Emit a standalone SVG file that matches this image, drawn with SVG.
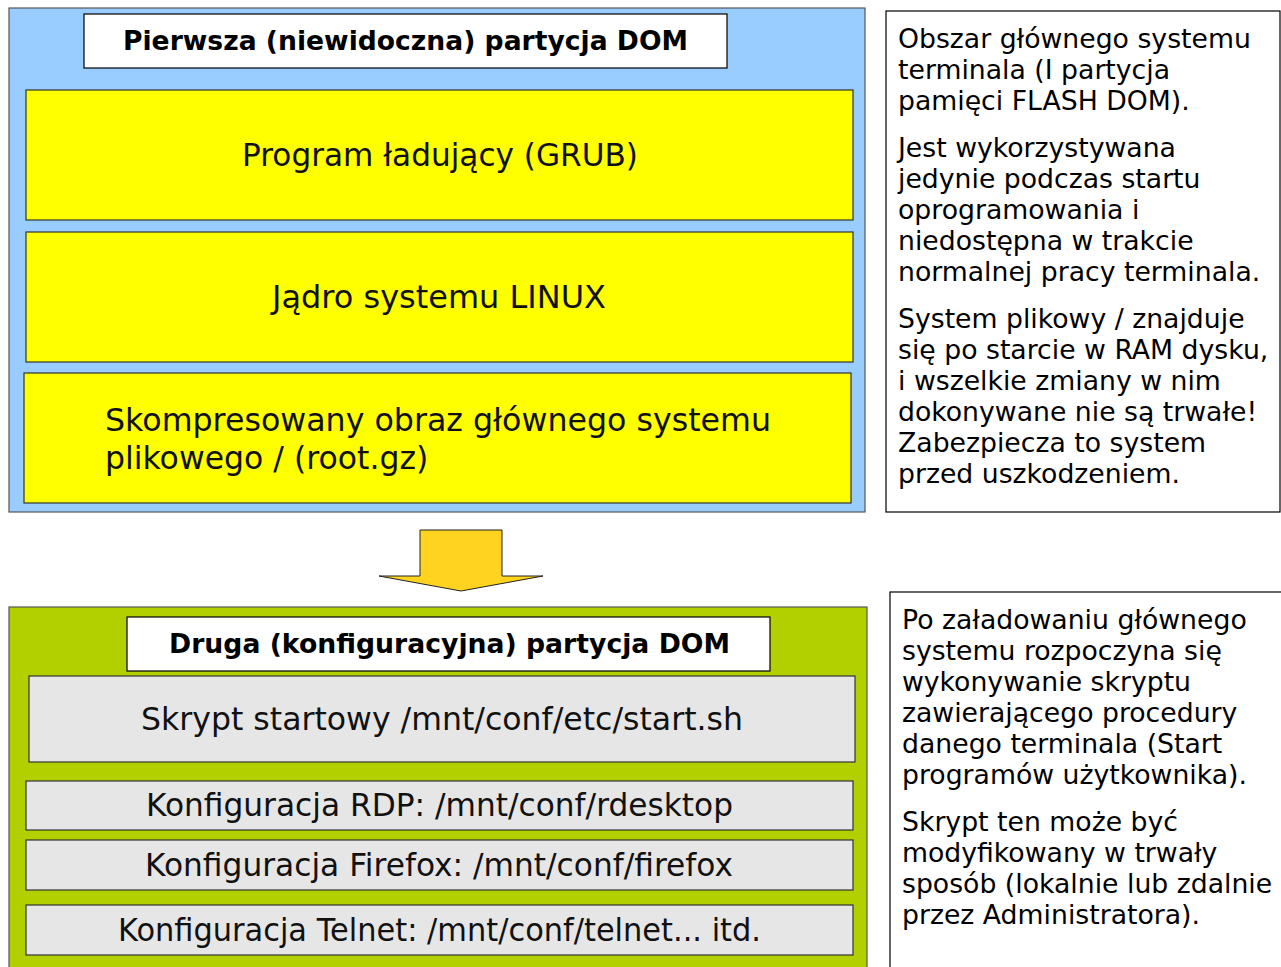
<svg xmlns="http://www.w3.org/2000/svg" width="1281" height="967" viewBox="0 0 1281 967">
<style>
.t{font-family:"DejaVu Sans","Liberation Sans",sans-serif;fill:#111}
.hd{font-size:26.7px;font-weight:bold;text-anchor:middle;fill:#000}
.big{font-size:31.5px;text-anchor:middle}
.side{font-size:26.7px;fill:#000}
.box{stroke:#333;stroke-width:1.2}
</style>
<rect width="1281" height="967" fill="#fff"/>
<g id="part1">
<rect x="9" y="8" width="856" height="504" fill="#99CCFF" stroke="#555" stroke-width="1.2"/>
<rect x="84" y="14" width="643" height="54" fill="#fff" stroke="#000" stroke-width="1.2"/>
<text class="t hd" x="405.5" y="50" textLength="565" lengthAdjust="spacingAndGlyphs">Pierwsza (niewidoczna) partycja DOM</text>
</g>
<g id="grub">
<rect class="box" x="26" y="90" width="827" height="130" fill="#FFFF00"/>
<text class="t big" x="440" y="166" textLength="396" lengthAdjust="spacingAndGlyphs">Program ładujący (GRUB)</text>
</g>
<g id="kernel">
<rect class="box" x="26" y="232" width="827" height="130" fill="#FFFF00"/>
<text class="t big" x="439" y="308" textLength="334" lengthAdjust="spacingAndGlyphs">Jądro systemu LINUX</text>
</g>
<g id="rootgz">
<rect class="box" x="24" y="373" width="827" height="130" fill="#FFFF00"/>
<text class="t" font-size="31.5" x="105" y="431" textLength="666" lengthAdjust="spacingAndGlyphs">Skompresowany obraz głównego systemu</text>
<text class="t" font-size="31.5" x="105" y="469">plikowego / (root.gz)</text>
</g>
<g id="note1">
<rect x="886" y="11" width="394" height="501" fill="#fff" stroke="#000" stroke-width="1.2"/>
<text class="t side" x="898" y="48">Obszar głównego systemu</text>
<text class="t side" x="898" y="79">terminala (I partycja</text>
<text class="t side" x="898" y="110">pamięci FLASH DOM).</text>
<text class="t side" x="898" y="157">Jest wykorzystywana</text>
<text class="t side" x="898" y="188">jedynie podczas startu</text>
<text class="t side" x="898" y="219">oprogramowania i</text>
<text class="t side" x="898" y="250">niedostępna w trakcie</text>
<text class="t side" x="898" y="281">normalnej pracy terminala.</text>
<text class="t side" x="898" y="328">System plikowy / znajduje</text>
<text class="t side" x="898" y="359">się po starcie w RAM dysku,</text>
<text class="t side" x="898" y="390">i wszelkie zmiany w nim</text>
<text class="t side" x="898" y="421">dokonywane nie są trwałe!</text>
<text class="t side" x="898" y="452">Zabezpiecza to system</text>
<text class="t side" x="898" y="483">przed uszkodzeniem.</text>
</g>
<g id="connectors">
<polygon points="420,530 502,530 502,576 543,576 461,591 379,576 420,576" fill="#FFD320" stroke="#222" stroke-width="1"/>
</g>
<g id="part2">
<rect x="9" y="607" width="858" height="362" fill="#B2D000" stroke="#555" stroke-width="1.2"/>
<rect x="127" y="617" width="643" height="54" fill="#fff" stroke="#000" stroke-width="1.2"/>
<text class="t hd" x="449.5" y="653" textLength="561" lengthAdjust="spacingAndGlyphs">Druga (konfiguracyjna) partycja DOM</text>
</g>
<g id="startsh">
<rect class="box" x="29" y="676" width="826" height="86" fill="#E6E6E6"/>
<text class="t big" x="442" y="730" textLength="602" lengthAdjust="spacingAndGlyphs">Skrypt startowy /mnt/conf/etc/start.sh</text>
</g>
<g id="rdp">
<rect class="box" x="26" y="781" width="827" height="49" fill="#E6E6E6"/>
<text class="t big" x="439.5" y="816" textLength="587" lengthAdjust="spacingAndGlyphs">Konfiguracja RDP: /mnt/conf/rdesktop</text>
</g>
<g id="firefox">
<rect class="box" x="26" y="840" width="827" height="50" fill="#E6E6E6"/>
<text class="t big" x="439" y="876" textLength="588" lengthAdjust="spacingAndGlyphs">Konfiguracja Firefox: /mnt/conf/firefox</text>
</g>
<g id="telnet">
<rect class="box" x="26" y="905" width="827" height="50" fill="#E6E6E6"/>
<text class="t big" x="439.5" y="941" textLength="643" lengthAdjust="spacingAndGlyphs">Konfiguracja Telnet: /mnt/conf/telnet... itd.</text>
</g>
<g id="note2">
<rect x="890" y="592" width="400" height="400" fill="#fff" stroke="#000" stroke-width="1.2"/>
<text class="t side" x="902" y="629">Po załadowaniu głównego</text>
<text class="t side" x="902" y="660">systemu rozpoczyna się</text>
<text class="t side" x="902" y="691">wykonywanie skryptu</text>
<text class="t side" x="902" y="722">zawierającego procedury</text>
<text class="t side" x="902" y="753">danego terminala (Start</text>
<text class="t side" x="902" y="784">programów użytkownika).</text>
<text class="t side" x="902" y="831">Skrypt ten może być</text>
<text class="t side" x="902" y="862">modyfikowany w trwały</text>
<text class="t side" x="902" y="893">sposób (lokalnie lub zdalnie</text>
<text class="t side" x="902" y="924">przez Administratora).</text>
</g>
</svg>
